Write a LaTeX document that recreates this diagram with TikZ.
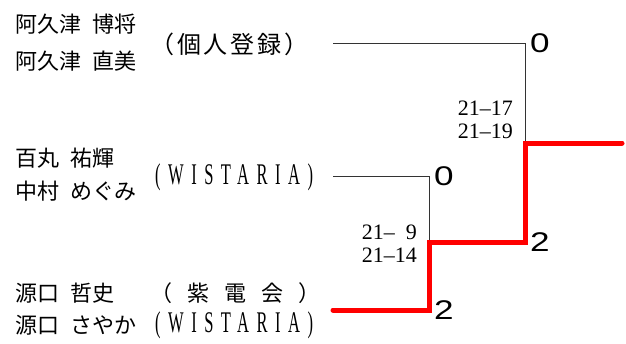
\documentclass[tikz,border=0pt]{standalone}
\usepackage{fontspec}
\setmainfont{Liberation Serif}
\newfontfamily\jpfont[WordSpace=2.2]{Noto Sans CJK JP}
\newfontfamily\clubfont[FakeStretch=0.55,LetterSpace=25]{Liberation Serif}
\newfontfamily\countfont[FakeStretch=1.3]{Liberation Sans}
\usetikzlibrary{positioning}

\begin{document}
\begin{tikzpicture}[x=1pt,y=-1pt,
    player/.style={anchor=west,inner sep=0pt,
                   font=\jpfont\fontsize{22}{22}\selectfont},
    team/.style={anchor=west,inner sep=0pt},
    lost/.style={draw=black!80,line width=0.8pt},
    won/.style={draw=red,line width=5pt,line cap=round},
    wins/.style={inner sep=0pt,font=\countfont\fontsize{27}{27}\selectfont},
    games/.style={anchor=east,align=right,inner sep=0pt,
                  font=\fontsize{22}{23}\selectfont}]
  \useasboundingbox (0,0) rectangle (626,343);

  % entrants
  \node (akutsuH) [player] at (15,24) {阿久津 博将};
  \node (akutsuN) [player] at (15,61) {阿久津 直美};
  \node (kojin) [team,font=\jpfont\fontsize{24}{24}\selectfont\addfontfeature{LetterSpace=12}]
        at (150,44) {（個人登録）};

  \node (momomaru) [player] at (15,158) {百丸 祐輝};
  \node (nakamura) [player] at (15,191) {中村 めぐみ};
  \node (wistariaA) [team,font=\clubfont\fontsize{30}{30}\selectfont]
        at (155,177) {(WISTARIA)};

  \node (minaT) [player] at (15,293) {源口 哲史};
  \node (minaS) [player] at (15,325) {源口 さやか};
  \node (shiden) [team,font=\jpfont\fontsize{22}{22}\selectfont\addfontfeature{LetterSpace=68}]
        at (150,293) {（紫電会）};
  \node (wistariaB) [team,font=\clubfont\fontsize{30}{30}\selectfont]
        at (155,325) {(WISTARIA)};

  % bracket corners
  \coordinate (akutsuEnd) at (333,43);
  \coordinate (akutsuTurn) at (525,43);
  \coordinate (momoEnd) at (333,176);
  \coordinate (momoTurn) at (429,176);
  \coordinate (minaEnd) at (333,310);
  \coordinate (minaTurn) at (429,310);
  \coordinate (semi) at (429,242);
  \coordinate (semiTurn) at (525,242);
  \coordinate (final) at (525,143);
  \coordinate (champ) at (622,143);

  \draw [lost] (akutsuEnd) -- (akutsuTurn) -- (final);
  \draw [lost] (momoEnd) -- (momoTurn) -- (semi);
  \draw [won] (minaEnd) -- (minaTurn) -- (semi) -- (semiTurn)
              -- (final) -- (champ);

  % games won
  \node (akutsuW) [wins, right=5pt of akutsuTurn] {0};
  \node (momoW) [wins, right=5pt of momoTurn] {0};
  \node (minaW1) [wins, right=5pt of minaTurn] {2};
  \node (minaW2) [wins, right=5pt of semiTurn] {2};

  % scores
  \node (semiScore) [games] at (417,244) {21--\enspace9\\21--14};
  \node (finalScore) [games] at (513,120) {21--17\\21--19};
\end{tikzpicture}
\end{document}
